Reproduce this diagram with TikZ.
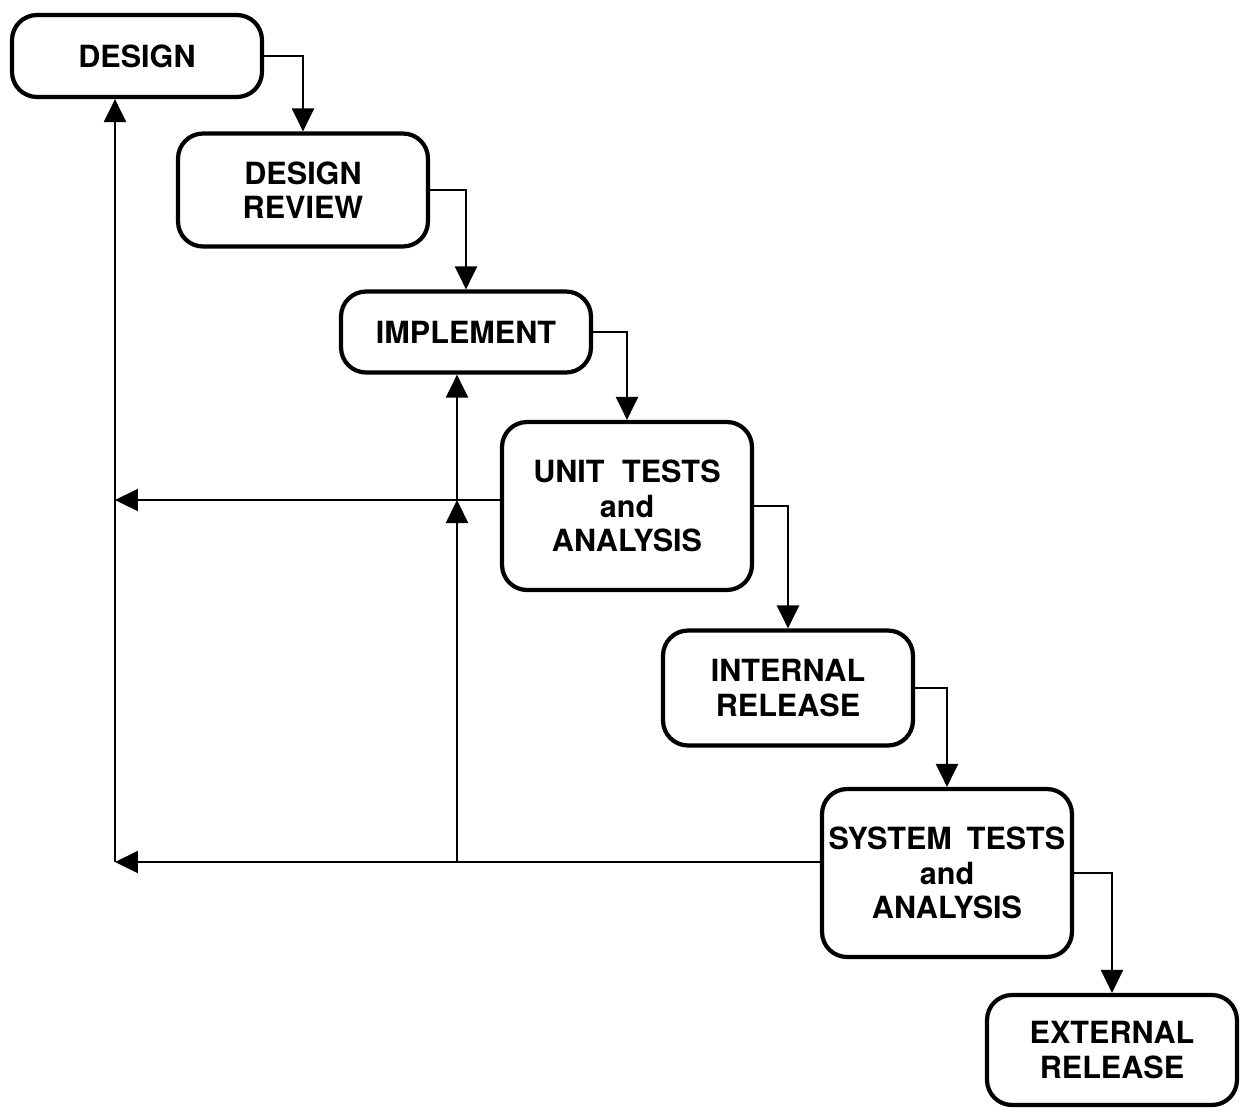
\documentclass[tikz,border=0pt]{standalone}
\usepackage{fontspec}
\setmainfont{TeX Gyre Heros}
\usetikzlibrary{arrows.meta}

\begin{document}
\begin{tikzpicture}[x=0.02cm,y=-0.02cm,
  font=\fontsize{17.4}{19.6}\selectfont\bfseries,
  stage/.style={draw,line width=2.4pt,rounded corners=0.5cm,align=center,
    minimum width=5cm,inner sep=0pt},
  flow/.style={line width=1.3pt,-{Triangle[length=0.46cm,width=0.44cm]}},
  back/.style={line width=1.3pt,-{Triangle[length=0.46cm,width=0.44cm]}}]

\useasboundingbox (0,0) rectangle (1245,1113);

%Stages

\node[stage,minimum height=1.64cm] (design) at (137,56) {DESIGN};
\node[stage,minimum height=2.26cm] (review) at (303,190) {DESIGN\\REVIEW};
\node[stage,minimum height=1.62cm] (implement) at (466,332) {IMPLEMENT};
\node[stage,minimum height=3.36cm] (unit) at (627,506)
  {UNIT\hspace{0.35cm}TESTS\\and\\ANALYSIS};
\node[stage,minimum height=2.3cm] (internal) at (788,688) {INTERNAL\\RELEASE};
\node[stage,minimum height=3.36cm] (system) at (947,873)
  {SYSTEM\hspace{0.3cm}TESTS\\and\\ANALYSIS};
\node[stage,minimum height=2.2cm] (external) at (1112,1050) {EXTERNAL\\RELEASE};

%Flow down

\draw[flow] (design.east) -| (review.north);
\draw[flow] (review.east) -| (implement.north);
\draw[flow] (implement.east) -| (unit.north);
\draw[flow] (unit.east) -| (internal.north);
\draw[flow] (internal.east) -| (system.north);
\draw[flow] (system.east) -| (external.north);

%Feedback

\coordinate (lowL) at (115,862);
\coordinate (upL) at (115,500);
\coordinate (lowM) at (457,862);
\coordinate (upM) at (457,500);

\draw[back] (system.west |- lowL) -- (lowL);
\draw[back] (lowL) -- (lowL |- design.south);
\draw[back] (unit.west |- upL) -- (upL);
\draw[back] (lowM) -- (upM);
\draw[back] (upM) -- (upM |- implement.south);

\end{tikzpicture}
\end{document}
